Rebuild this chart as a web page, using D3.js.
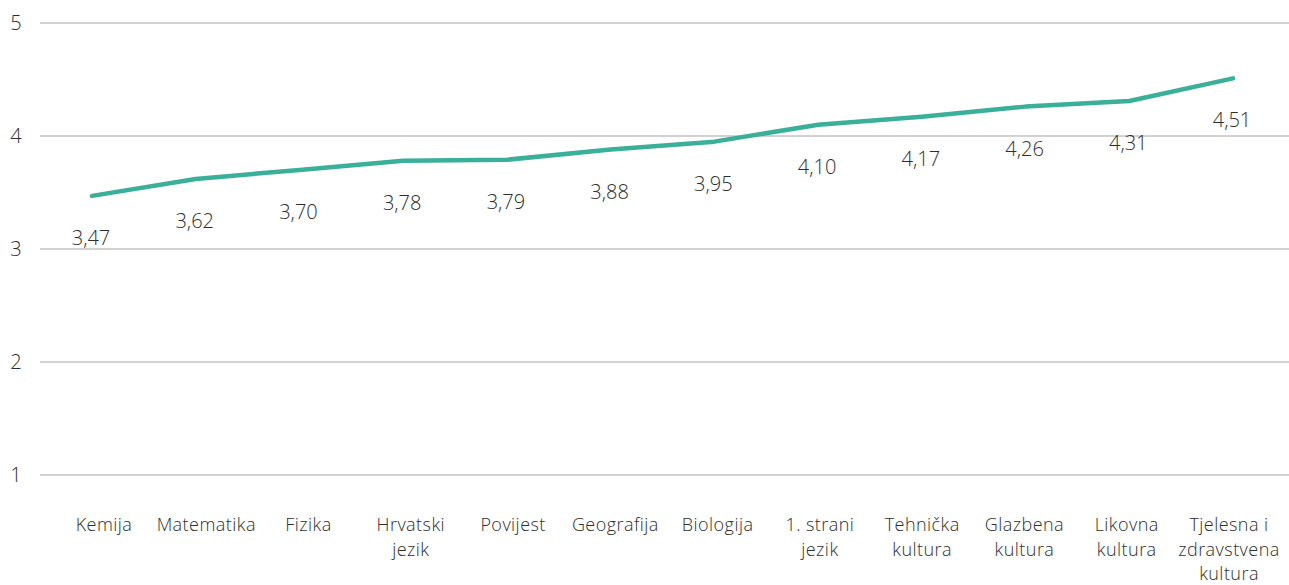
<!DOCTYPE html>
<html>
<head>
<meta charset="utf-8">
<script src="https://cdn.jsdelivr.net/npm/d3@7"></script>
<style>
  body { margin: 0; background: #fff; }
  text { font-family: "Open Sans", "Noto Sans", sans-serif; fill: #2e2e2e; font-weight: 300; }
</style>
</head>
<body>
<div class="chart"></div>
<script>
// subjects, average grade
const categories = [["Kemija"], ["Matematika"], ["Fizika"], ["Hrvatski", "jezik"], ["Povijest"],
  ["Geografija"], ["Biologija"], ["1. strani", "jezik"], ["Tehnička", "kultura"],
  ["Glazbena", "kultura"], ["Likovna", "kultura"], ["Tjelesna i", "zdravstvena", "kultura"]];
const values = [3.47, 3.62, 3.70, 3.78, 3.79, 3.88, 3.95, 4.10, 4.17, 4.26, 4.31, 4.51];
const yTicks = [1, 2, 3, 4, 5];

const width = 1289, height = 585;

let svg = d3.select(".chart").append("svg")
  .attr("width", width)
  .attr("height", height);

const keys = categories.map((d, i) => i);

let y = d3.scaleLinear().domain([1, 5]).range([475, 23]);
let x = d3.scalePoint().domain(keys).range([92, 1233]);
let xLab = d3.scalePoint().domain(keys).range([104, 1229]);

// grid
svg.selectAll(".grid")
  .data(yTicks)
  .join("line")
  .attr("x1", 40).attr("x2", width)
  .attr("y1", d => y(d)).attr("y2", d => y(d))
  .attr("stroke", "#a6a6a6")
  .attr("stroke-width", 1.2);

svg.selectAll(".ytick")
  .data(yTicks)
  .join("text")
  .attr("x", 16)
  .attr("y", d => y(d))
  .attr("dy", "0.35em")
  .attr("text-anchor", "middle")
  .style("font-size", "20px")
  .text(d => d);

// category labels, one text per line
let lines = [];
categories.forEach((c, i) => c.forEach((s, j) => lines.push({ s, i, j })));
svg.selectAll(".cat")
  .data(lines)
  .join("text")
  .attr("class", "cat")
  .attr("text-anchor", "middle")
  .style("font-size", "18px")
  .style("letter-spacing", "0.45px")
  .attr("x", d => xLab(d.i))
  .attr("y", d => 531 + d.j * 24.5)
  .text(d => d.s);

const line = d3.line()
  .x((d, i) => x(i))
  .y(d => y(d));

svg.append("path")
  .datum(values)
  .attr("d", line)
  .attr("fill", "none")
  .attr("stroke", "#3aaf9a")
  .attr("stroke-width", 4.5)
  .attr("stroke-linecap", "round")
  .attr("stroke-linejoin", "round");

svg.selectAll(".val")
  .data(values)
  .join("text")
  .attr("x", (d, i) => x(i) - 1)
  .attr("y", d => y(d) + 42)
  .attr("dy", "0.35em")
  .attr("text-anchor", "middle")
  .style("font-size", "20px")
  .text(d => d.toFixed(2).replace(".", ","));
</script>
</body>
</html>
